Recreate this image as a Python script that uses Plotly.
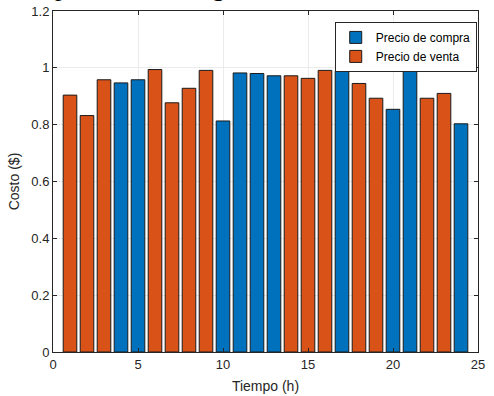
import plotly.graph_objects as go

hours = list(range(1, 25))
# 'c' = precio de compra, 'v' = precio de venta
tipo = ["v", "v", "v", "c", "c", "v", "v", "v", "v", "c", "c", "c",
        "c", "v", "v", "v", "c", "v", "v", "c", "c", "v", "v", "c"]
costo = [0.904, 0.832, 0.958, 0.947, 0.958, 0.994, 0.877, 0.928, 0.991, 0.813, 0.982, 0.980,
         0.972, 0.972, 0.963, 0.991, 0.988, 0.945, 0.893, 0.854, 0.988, 0.893, 0.910, 0.803]

compra = [c if t == "c" else None for c, t in zip(costo, tipo)]
venta = [c if t == "v" else None for c, t in zip(costo, tipo)]

fig = go.Figure()
fig.add_trace(go.Bar(x=hours, y=compra, name="Precio de compra", width=0.8,
                     marker=dict(color="#0072BD", line=dict(color="#1a1a1a", width=1))))
fig.add_trace(go.Bar(x=hours, y=venta, name="Precio de venta", width=0.8,
                     marker=dict(color="#D95319", line=dict(color="#1a1a1a", width=1))))

axis_common = dict(showgrid=True, gridcolor="#EBEBEB", gridwidth=1, showline=True,
                   linecolor="#262626", linewidth=1, mirror="ticks", ticks="inside",
                   ticklen=4, tickcolor="#262626", zeroline=False, automargin=False,
                   tickfont=dict(family="Liberation Sans, Arial", size=13, color="#262626"))

fig.update_layout(
    width=494, height=396,
    margin=dict(l=53, r=16, t=11, b=44, autoexpand=False),
    paper_bgcolor="white", plot_bgcolor="white",
    barmode="overlay",
    font=dict(family="Liberation Sans, Arial", size=13, color="#262626"),
    xaxis=dict(range=[0, 25], tickvals=[0, 5, 10, 15, 20, 25],
               title=dict(text="Tiempo (h)", font=dict(size=14), standoff=10), **axis_common),
    yaxis=dict(range=[0, 1.2], tickvals=[0, 0.2, 0.4, 0.6, 0.8, 1, 1.2],
               ticktext=["0", "0.2", "0.4", "0.6", "0.8", "1", "1.2"],
               title=dict(text="Costo ($)", font=dict(size=14), standoff=8), **axis_common),
    legend=dict(x=0.997, y=0.968, xanchor="right", yanchor="top",
                bgcolor="white", bordercolor="#262626", borderwidth=1,
                font=dict(size=12, color="#000000"), itemwidth=30,
                tracegroupgap=0),
    showlegend=True,
)

fig.add_annotation(text="precios de energía", xref="paper", yref="paper",
                   x=0.0, y=1.021, xanchor="left", yanchor="bottom", showarrow=False,
                   font=dict(family="Liberation Serif, Times New Roman", size=26, color="#000000"))

fig.write_html("out.html")
